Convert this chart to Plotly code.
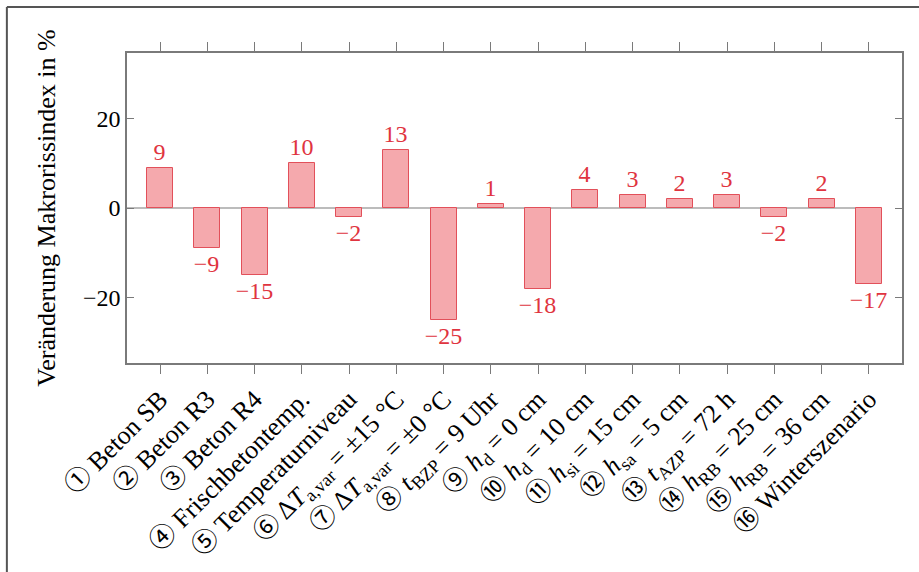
import plotly.graph_objects as go

circled = ["①", "②", "③", "④", "⑤", "⑥", "⑦", "⑧",
           "⑨", "⑩", "⑪", "⑫", "⑬", "⑭", "⑮", "⑯"]
names = [
    "Beton SB",
    "Beton R3",
    "Beton R4",
    "Frischbetontemp.",
    "Temperaturniveau",
    "Δ<i>T</i><sub>a,var</sub> = ±15 °C",
    "Δ<i>T</i><sub>a,var</sub> = ±0 °C",
    "<i>t</i><sub>BZP</sub> = 9 Uhr",
    "<i>h</i><sub>d</sub> = 0 cm",
    "<i>h</i><sub>d</sub> = 10 cm",
    "<i>h</i><sub>si</sub> = 15 cm",
    "<i>h</i><sub>sa</sub> = 5 cm",
    "<i>t</i><sub>AZP</sub> = 72 h",
    "<i>h</i><sub>RB</sub> = 25 cm",
    "<i>h</i><sub>RB</sub> = 36 cm",
    "Winterszenario",
]
values = [9, -9, -15, 10, -2, 13, -25, 1, -18, 4, 3, 2, 3, -2, 2, -17]
y_ticks = [-20, 0, 20]
y_title = "Veränderung Makrorissindex in %"

positions = list(range(len(names)))
ticktext = [
    f'<span style="font-family:Noto Sans CJK JP;font-size:26px">{c}</span> {n}'
    for c, n in zip(circled, names)
]
labels = [str(v).replace("-", "−") for v in values]

FONT = "'Liberation Serif', 'Times New Roman', 'DejaVu Serif', serif"
AX = "#7a7a7a"

fig = go.Figure()
fig.add_trace(go.Bar(
    x=positions, y=values, width=0.55,
    marker=dict(color="#f5a9ad", line=dict(color="#e2505a", width=1)),
    text=labels, textposition="outside", cliponaxis=False, constraintext="none",
    textfont=dict(family=FONT, size=24, color="#e03440"),
))

fig.add_shape(type="line", xref="x", yref="y", x0=-0.7, x1=15, y0=0, y1=0,
              line=dict(color=AX, width=1.2), layer="below")
# outer frame (top and left edges)
fig.add_shape(type="line", xref="paper", yref="paper", x0=-0.155, x1=1.03, y0=1.148, y1=1.148,
              line=dict(color="#555555", width=2))
fig.add_shape(type="line", xref="paper", yref="paper", x0=-0.155, x1=-0.155, y0=1.148, y1=-0.7,
              line=dict(color="#555555", width=2))

fig.update_layout(
    width=919, height=572,
    margin=dict(l=127, r=17, t=53, b=209),
    plot_bgcolor="white", paper_bgcolor="white",
    showlegend=False,
    font=dict(family=FONT, size=24, color="black"),
    bargap=0,
)
fig.update_xaxes(
    range=[-0.7, 15.7], tickvals=positions, ticktext=ticktext, tickangle=-45,
    ticks="outside", ticklen=9, tickcolor=AX, tickwidth=1,
    showline=True, linecolor=AX, linewidth=1.5, mirror="ticks",
    showgrid=False, zeroline=False, automargin=False,
    tickfont=dict(family=FONT, size=26, color="black"),
)
fig.update_yaxes(
    range=[-34.6, 34.6], tickvals=y_ticks,
    ticks="inside", ticklen=7, tickcolor=AX, tickwidth=1,
    showline=True, linecolor=AX, linewidth=1.5, mirror="ticks",
    showgrid=False, zeroline=False, automargin=False,
    title=dict(text=y_title, font=dict(family=FONT, size=26), standoff=20),
    tickfont=dict(family=FONT, size=24, color="black"),
)

fig.write_html("out.html", config={"displayModeBar": False},
               post_script="document.body.style.margin='0';")
